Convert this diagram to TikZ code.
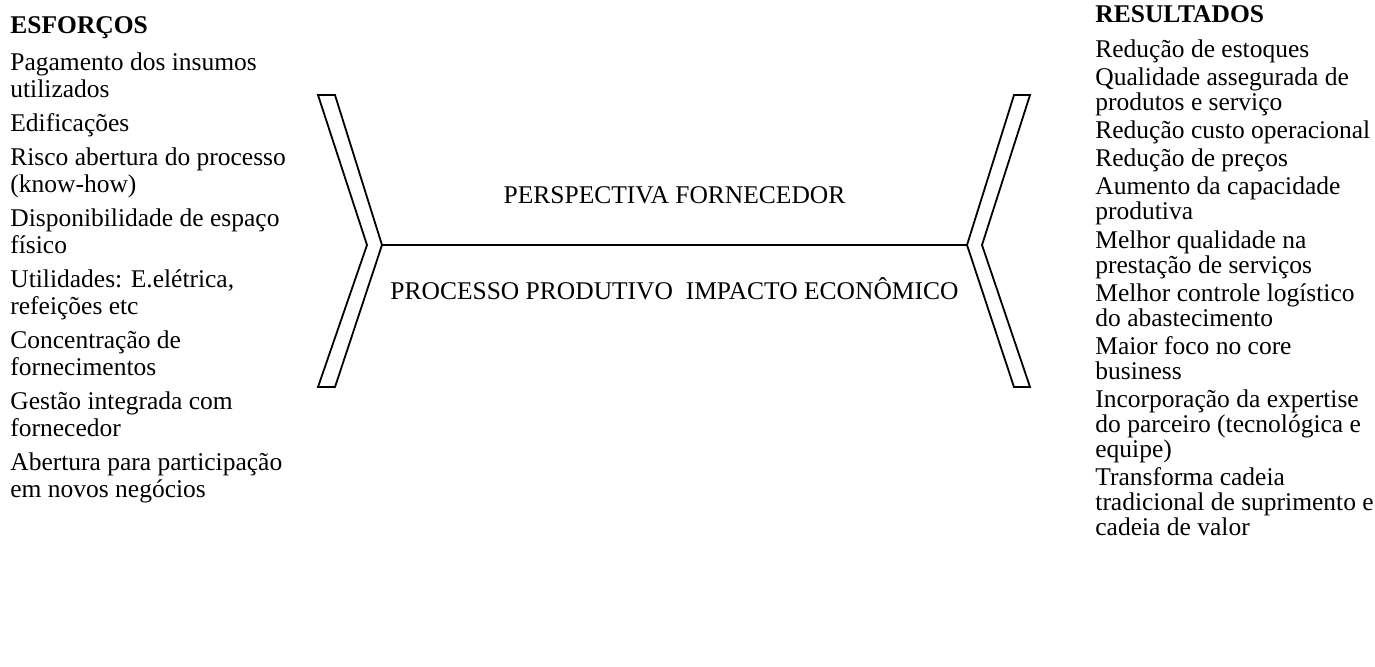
\documentclass[tikz,border=0pt]{standalone}
\usepackage{fontspec}
\setmainfont{Liberation Serif}
\usetikzlibrary{positioning}

\begin{document}
\begin{tikzpicture}[x=0.5pt, y=-0.5pt,
    txt/.style={inner sep=0pt, font=\fontsize{12.75}{13.5}\selectfont},
    head/.style={txt, font=\fontsize{12.75}{13.5}\selectfont\bfseries, anchor=base west},
    lst/.style={txt, align=left},
    chev/.style={draw, line width=0.9pt, line join=miter}]
  \useasboundingbox (0,0) rectangle (1375,666);

  % esforcos (left column)
  \node [head] (esf) at (10,33) {ESFORÇOS};
  \node [lst, below=9.5pt of esf.base west, anchor=north west] (esflist)
    {Pagamento dos insumos\\utilizados\\[3.5pt]Edificações\\[3.5pt]Risco abertura do processo\\(know-how)\\[3.5pt]Disponibilidade de espaço\\físico\\[3.5pt]Utilidades: E.elétrica,\\refeições etc\\[3.5pt]Concentração de\\fornecimentos\\[3.5pt]Gestão integrada com\\fornecedor\\[3.5pt]Abertura para participação\\em novos negócios};

  % resultados (right column)
  \node [head] (res) at (1095,22) {RESULTADOS};
  \node [lst, font=\fontsize{12.75}{12.5}\selectfont, below=8.5pt of res.base west, anchor=north west] (reslist)
    {Redução de estoques\\[1.6pt]Qualidade assegurada de\\produtos e serviço\\[1.6pt]Redução custo operacional\\[1.6pt]Redução de preços\\[1.6pt]Aumento da capacidade\\produtiva\\[1.6pt]Melhor qualidade na\\prestação de serviços\\[1.6pt]Melhor controle logístico\\do abastecimento\\[1.6pt]Maior foco no core\\business\\[1.6pt]Incorporação da expertise\\do parceiro (tecnológica e\\equipe)\\[1.6pt]Transforma cadeia\\tradicional de suprimento e\\cadeia de valor};

  % chevrons
  \draw [chev] (318,95) -- (335,95) -- (382,245) coordinate (ltip) -- (335,387) -- (318,387) -- (367,245) -- cycle;
  \draw [chev] (1014,95) -- (1030,95) -- (982,245) -- (1030,387) -- (1014,387) -- (967,245) coordinate (rtip) -- cycle;

  \draw [line width=0.9pt] (ltip) -- node [txt, above=20pt] (persp) {PERSPECTIVA FORNECEDOR}
    node [txt, below=16pt] (proc) {PROCESSO PRODUTIVO\ \ IMPACTO ECONÔMICO} (rtip);
\end{tikzpicture}
\end{document}
